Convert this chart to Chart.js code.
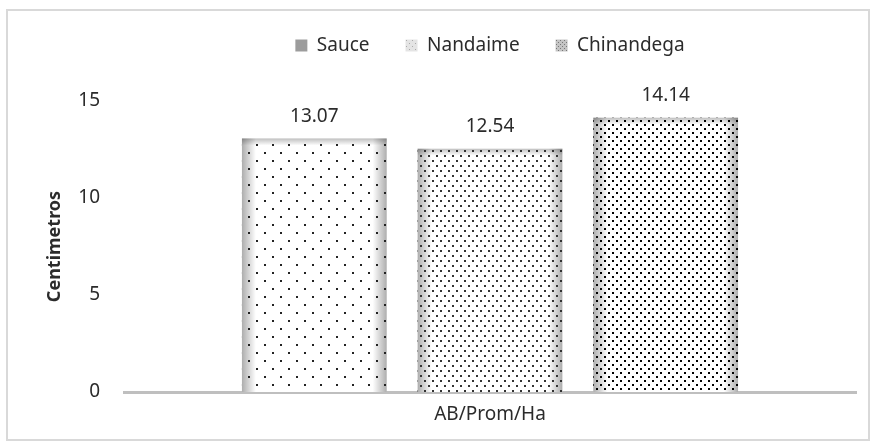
<!DOCTYPE html>
<html>
<head>
<meta charset="utf-8">
<script src="https://cdn.jsdelivr.net/npm/chart.js@4.4.1/dist/chart.umd.min.js"></script>
<style>
    body { margin: 0; background: #fff; }
    #wrap { position: relative; width: 875px; height: 448px; }
    #frame { position: absolute; left: 6px; top: 9px; width: 864px; height: 432px; box-sizing: border-box; border: 2px solid #d9d9d9; }
    #chart { position: absolute; left: 0; top: 0; }
</style>
</head>
<body>
<div id="wrap">
    <div id="frame"></div>
    <canvas id="chart" width="875" height="448"></canvas>
</div>
<script>
// Chart data
const categories = ['AB/Prom/Ha'];
const seriesNames = ['Sauce', 'Nandaime', 'Chinandega'];
const sauceValues = [13.07];
const nandaimeValues = [12.54];
const chinandegaValues = [14.14];
const yTicks = [0, 5, 10, 15];

const FONT = '"Noto Sans", "Open Sans", sans-serif';
const TEXT = '#2b2b2b';

// Function to make a dotted fill pattern
function makeDots(w, h, dots, size, dotColor, bg) {
    const c = document.createElement('canvas');
    c.width = w;
    c.height = h;
    const g = c.getContext('2d');
    if (bg) {
        g.fillStyle = bg;
        g.fillRect(0, 0, w, h);
    }
    g.fillStyle = dotColor;
    dots.forEach(d => g.fillRect(d[0], d[1], size, size));
    return g.createPattern(c, 'repeat');
}

const barPatterns = [
    makeDots(16, 16, [[0, 0], [8, 8]], 2, '#222', null),
    makeDots(8, 10, [[0, 0], [4, 5]], 2, '#333', null),
    makeDots(8, 8, [[0, 0], [4, 4]], 2, '#000', null)
];
const legendPatterns = [
    '#9c9c9c',
    makeDots(6, 6, [[1, 1], [4, 4]], 1, '#aaa', '#e4e4e4'),
    makeDots(4, 4, [[0, 0], [2, 2]], 1, '#777', '#c4c4c4')
];

// Gray inner glow behind the dots of each bar
const barShade = {
    id: 'barShade',
    beforeDatasetsDraw(chart) {
        const ctx = chart.ctx;
        chart.data.datasets.forEach((ds, i) => {
            chart.getDatasetMeta(i).data.forEach(bar => {
                const left = bar.x - bar.width / 2;
                const right = bar.x + bar.width / 2;
                const top = bar.y;
                const bottom = bar.base;
                ctx.save();
                ctx.fillStyle = '#fff';
                ctx.fillRect(left, top, bar.width, bottom - top);
                let g = ctx.createLinearGradient(left, 0, left + 14, 0);
                g.addColorStop(0, 'rgba(0,0,0,0.32)');
                g.addColorStop(1, 'rgba(0,0,0,0)');
                ctx.fillStyle = g;
                ctx.fillRect(left, top, 14, bottom - top);
                g = ctx.createLinearGradient(right, 0, right - 14, 0);
                g.addColorStop(0, 'rgba(0,0,0,0.32)');
                g.addColorStop(1, 'rgba(0,0,0,0)');
                ctx.fillStyle = g;
                ctx.fillRect(right - 14, top, 14, bottom - top);
                g = ctx.createLinearGradient(0, top, 0, top + 7);
                g.addColorStop(0, 'rgba(0,0,0,0.25)');
                g.addColorStop(1, 'rgba(0,0,0,0)');
                ctx.fillStyle = g;
                ctx.fillRect(left, top, bar.width, 7);
                ctx.restore();
            });
        });
    }
};

// Value labels above bars
const valueLabels = {
    id: 'valueLabels',
    afterDatasetsDraw(chart) {
        const ctx = chart.ctx;
        ctx.save();
        ctx.font = '19px ' + FONT;
        ctx.fillStyle = TEXT;
        ctx.textAlign = 'center';
        ctx.textBaseline = 'middle';
        chart.data.datasets.forEach((ds, i) => {
            chart.getDatasetMeta(i).data.forEach((bar, j) => {
                ctx.fillText(ds.data[j].toFixed(2), bar.x, bar.y - 22);
            });
        });
        ctx.restore();
    }
};

// Extra room under the legend
const legendMargin = {
    id: 'legendMargin',
    beforeInit(chart) {
        const fit = chart.legend.fit;
        chart.legend.fit = function() {
            fit.bind(chart.legend)();
            this.height += 36;
        };
    }
};

const seriesValues = [sauceValues, nandaimeValues, chinandegaValues];

new Chart(document.getElementById('chart').getContext('2d'), {
    type: 'bar',
    data: {
        labels: categories,
        datasets: seriesNames.map((name, i) => ({
            label: name,
            data: seriesValues[i],
            backgroundColor: barPatterns[i],
            borderWidth: 0,
            categoryPercentage: 0.72,
            barPercentage: 0.824
        }))
    },
    options: {
        responsive: false,
        animation: false,
        devicePixelRatio: 1,
        layout: { padding: { top: 0, right: 19, bottom: 0, left: 0 } },
        plugins: {
            tooltip: { enabled: false },
            legend: {
                position: 'top',
                fullSize: false,
                labels: {
                    boxWidth: 12,
                    boxHeight: 12,
                    padding: 36,
                    color: TEXT,
                    font: { family: FONT, size: 19 },
                    generateLabels(chart) {
                        const items = Chart.defaults.plugins.legend.labels.generateLabels(chart);
                        items.forEach((item, i) => {
                            item.fillStyle = legendPatterns[i];
                            item.strokeStyle = 'rgba(0,0,0,0)';
                            item.lineWidth = 0;
                        });
                        return items;
                    }
                }
            }
        },
        scales: {
            x: {
                grid: { display: false, drawTicks: false },
                border: { display: true, color: '#bfbfbf', width: 3 },
                ticks: { color: TEXT, font: { family: FONT, size: 19 }, padding: 11 },
                afterFit(scale) { scale.height = 56; }
            },
            y: {
                min: 0,
                max: 15,
                grid: { display: false, drawTicks: false },
                border: { display: false },
                afterBuildTicks(scale) { scale.ticks = yTicks.map(v => ({ value: v })); },
                ticks: { color: TEXT, font: { family: FONT, size: 19 }, padding: 24 },
                title: {
                    display: true,
                    text: 'Centimetros',
                    color: TEXT,
                    font: { family: FONT, size: 18, weight: 'bold' },
                    padding: { top: 44, bottom: 0 }
                },
                afterFit(scale) { scale.width = 124; }
            }
        }
    },
    plugins: [legendMargin, barShade, valueLabels]
});
</script>
</body>
</html>
